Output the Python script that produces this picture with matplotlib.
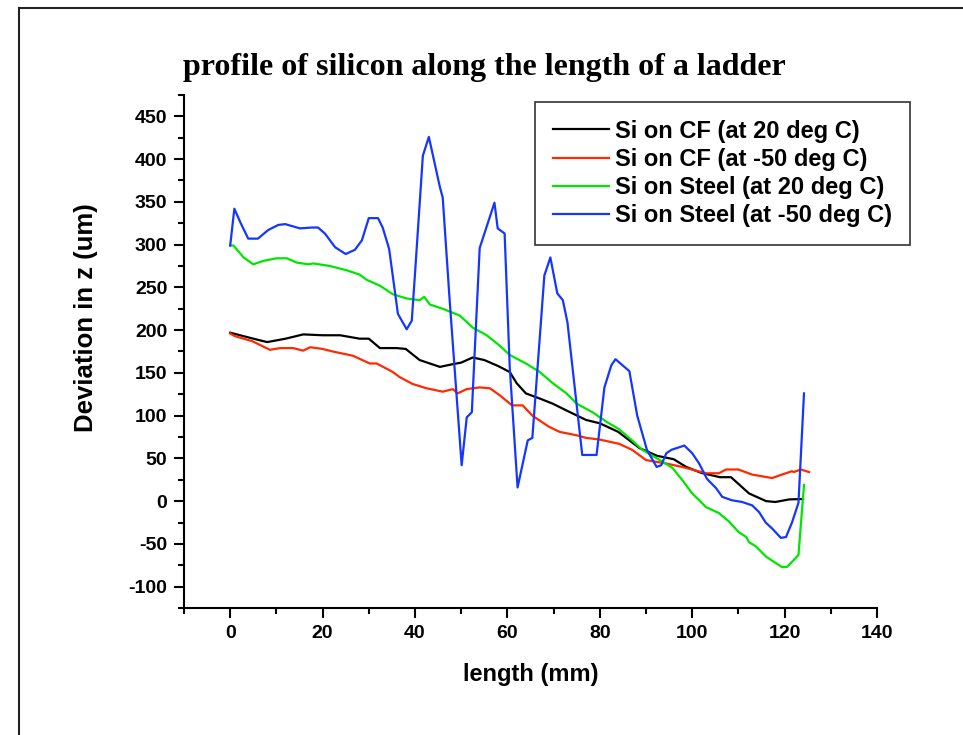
import matplotlib
matplotlib.use("Agg")
import matplotlib.pyplot as plt
from matplotlib.lines import Line2D
from matplotlib.ticker import MultipleLocator

# Si on CF (at 20 deg C)
cf20_x = [0, 5, 8, 12, 15.8, 20, 23.8, 28, 30, 32.4, 36, 38, 41, 45.4, 48, 50, 52.5, 55, 58, 60.5, 62, 64,
          67, 69.8, 72.8, 77, 80, 84, 88.6, 92.4, 96, 98.7, 102, 106, 108.4, 112.3, 116, 118, 121, 124]
cf20_y = [197, 190, 186, 190, 195, 194, 194, 190, 190, 179, 179, 178, 165, 157, 160, 162, 168, 165, 158, 151, 138, 126,
          120, 114, 106, 95, 91, 81, 62, 53, 49, 40, 33, 28, 28, 9, 0, -1, 2, 2.5]

# Si on CF (at -50 deg C)
cf50_x = [0, 1, 4.8, 8.6, 10.8, 13.6, 15.8, 17.3, 20, 22.2, 26.6, 30.2, 31.7, 35.2, 36.7, 39.5, 42.5, 46, 48.2,
          49.2, 51.2, 54, 56.2, 58.3, 61, 63.3, 65.4, 69, 71.3, 75, 77, 80, 84.2, 87, 90, 94.4, 97.8, 103,
          105.8, 107.3, 110, 113, 117.3, 119.4, 121.6, 122, 123.5, 125.3]
cf50_y = [196, 193, 187, 177, 179, 179, 176, 180, 178, 175, 170, 161, 161, 151, 145, 137, 132, 128, 131,
          126, 131, 133, 132, 124, 112, 112, 100, 87, 81, 77, 74, 72, 67, 60, 48, 44, 40, 32.6,
          32.6, 37, 37, 31, 27, 31, 35, 34, 37, 34]

# Si on Steel (at 20 deg C)
st20_x = [0, 0.7, 2.9, 5, 7.2, 10, 12.3, 14.4, 16.9, 18, 21.6, 25.2, 28, 29.5, 32.4, 35.2, 38.2, 41, 42, 43.2,
          46, 49.7, 52.5, 55.5, 58.3, 60.5, 64, 67, 69.8, 72.8, 75, 78.4, 81.4, 84.2, 87, 89.2, 93, 95.7,
          97.8, 100, 103, 105.8, 108, 110, 111.7, 112.3, 113.8, 116, 119.4, 120.5, 121.6, 123, 124.2]
st20_y = [299, 299, 285, 277, 281, 284, 284, 279, 277, 278, 275, 270, 265, 259, 252, 242, 237, 235, 239, 230,
          225, 217, 203, 194, 182, 171, 161, 151, 138, 126, 114, 104, 93, 84, 71, 60, 48, 39,
          25, 9, -7, -14, -24, -36, -42, -48, -53, -65, -77, -77, -71, -63, 19]

# Si on Steel (at -50 deg C)
st50_x = [0, 0.9, 2.2, 3.9, 6, 8.2, 10.4, 11.9, 15.1, 17.7, 19, 20.5, 22.7, 25, 27, 28.5, 30, 32, 33, 34.4,
          36.3, 38.2, 39.3, 40, 41.7, 43, 44.3, 45.4, 46, 47.5, 50.1, 51.2, 52.3, 54, 57.2, 57.9, 59.4, 60.5,
          62.2, 64.4, 65.4, 68, 69.3, 70.8, 72, 73, 76.2, 79.3, 81, 82.5, 83.4, 86.4, 88.1, 90.2, 92.3,
          93.3, 94.4, 95.5, 98.3, 100, 101.5, 103.2, 105.2, 106.5, 108.6, 110.8, 113, 114.5, 115.9, 117.3,
          119.2, 120.3, 121.6, 123, 124.2]
st50_y = [299, 342, 326, 307, 307, 317, 323, 324, 319, 320, 320, 313, 297, 289, 294, 305, 331, 331, 320, 295,
          219, 201, 211, 266, 404, 426, 394, 367, 355, 235, 42, 98, 104, 296, 349, 319, 313, 157,
          16, 71, 74, 264, 285, 243, 235, 209, 54, 54, 133, 159, 166, 152, 100, 60, 40,
          42, 56, 60, 65, 56, 44, 26, 15, 5, 1, -1, -5, -13, -25, -32,
          -43, -42, -25, -2, 126]

labels = ["Si on CF (at 20 deg C)", "Si on CF (at -50 deg C)",
          "Si on Steel (at 20 deg C)", "Si on Steel (at -50 deg C)"]
colors = ["#000000", "#ff2a00", "#00e600", "#1536ff"]

x_ticks = [0, 20, 40, 60, 80, 100, 120, 140]
y_ticks = [-100, -50, 0, 50, 100, 150, 200, 250, 300, 350, 400, 450]

plt.rcParams['font.family'] = ['Liberation Sans', 'DejaVu Sans']
plt.rcParams['axes.unicode_minus'] = False

fig = plt.figure(figsize=(9.63, 7.35), dpi=100)
ax = fig.add_axes([184 / 963, 1 - 608 / 735, (877 - 184) / 963, (608 - 95) / 735])

series = [(cf20_x, cf20_y), (cf50_x, cf50_y), (st20_x, st20_y), (st50_x, st50_y)]
for (xs, ys), lab, c in zip(series, labels, colors):
    ax.plot(xs, ys, color=c, lw=1.6, label=lab)

ax.set_xlim(-10, 140)
ax.set_ylim(-125, 475)
ax.set_xticks(x_ticks)
ax.set_yticks(y_ticks)
ax.xaxis.set_minor_locator(MultipleLocator(10))
ax.yaxis.set_minor_locator(MultipleLocator(25))
ax.spines['top'].set_visible(False)
ax.spines['right'].set_visible(False)
for s in ('left', 'bottom'):
    ax.spines[s].set_linewidth(1.5)
ax.tick_params(which='major', direction='out', length=7, width=1.5, labelsize=14, pad=5)
ax.tick_params(which='minor', direction='out', length=4, width=1.5)
for t in ax.get_xticklabels() + ax.get_yticklabels():
    t.set_fontweight('bold')

ax.set_xlabel("length (mm)", fontsize=17, fontweight='bold', labelpad=15)
fig.text(86 / 963, 1 - 318 / 735, "Deviation in z (um)", fontsize=18.5, fontweight='bold',
         rotation=90, ha='center', va='center')

fig.text(484 / 963, 1 - 67 / 735, "profile of silicon along the length of a ladder",
         family=['Liberation Serif'], fontweight='bold', fontsize=23, ha='center', va='center')

leg = ax.legend(loc='upper right', bbox_to_anchor=(910 / 963, 1 - 102 / 735), bbox_transform=fig.transFigure,
                prop={'weight': 'bold', 'size': 17}, frameon=True, fancybox=False,
                borderpad=0.75, handlelength=2.4, handletextpad=0.25, labelspacing=0.22, borderaxespad=0)
leg.get_frame().set_edgecolor('black')
leg.get_frame().set_linewidth(1.2)

# page frame
fig.add_artist(Line2D([19 / 963, 19 / 963], [0, 1 - 8 / 735], transform=fig.transFigure, color='#222222', lw=1.5))
fig.add_artist(Line2D([19 / 963, 1], [1 - 8 / 735, 1 - 8 / 735], transform=fig.transFigure, color='#222222', lw=1.5))

fig.savefig("out.png", dpi=100)
